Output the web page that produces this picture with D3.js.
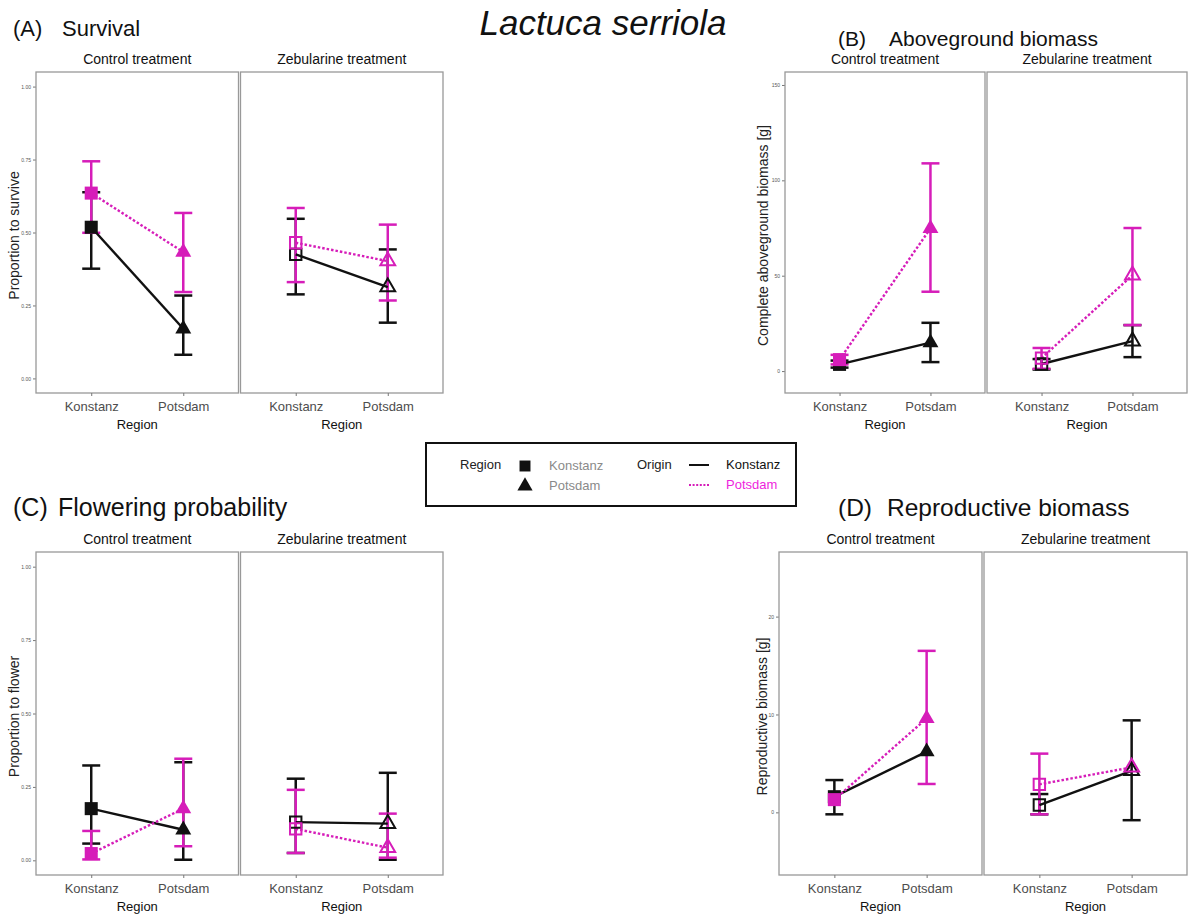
<!DOCTYPE html>
<html>
<head>
<meta charset="utf-8">
<script src="https://cdn.jsdelivr.net/npm/d3@7"></script>
<style>
  html, body { margin: 0; padding: 0; background: #fff; }
  svg { display: block; font-family: "Liberation Sans", Arial, Helvetica, sans-serif; }
</style>
</head>
<body>
<svg id="chart" width="1188" height="914"></svg>
<script>
// Levels of the design
const regions = ["Konstanz", "Potsdam"];
const treatments = ["Control treatment", "Zebularine treatment"];
const origins = ["Konstanz", "Potsdam"];

// Every value array is ordered: treatment (Control, Zebularine) -> origin (Konstanz, Potsdam) -> region (Konstanz, Potsdam)
// null = no interval drawn
const survivalMean = [0.518, 0.170, 0.635, 0.433, 0.425, 0.313, 0.465, 0.402];
const survivalLow  = [0.376, 0.081, 0.499, 0.296, 0.288, 0.191, 0.330, 0.267];
const survivalHigh = [0.638, 0.284, 0.744, 0.567, 0.547, 0.442, 0.584, 0.527];

const biomassMean = [3.5, 14.9, 6.0, 74.8, 3.7, 15.7, 6.8, 50.3];
const biomassLow  = [1.8, 4.7, 3.5, 41.6, 0.8, 7.3, 1.2, 24.1];
const biomassHigh = [5.5, 25.3, 8.5, 108.9, 6.3, 24.1, 12.1, 75.0];

const flowerMean = [0.176, 0.104, 0.023, 0.176, 0.130, 0.125, 0.107, 0.043];
const flowerLow  = [0.057, 0.002, 0.003, 0.048, 0.025, 0.002, 0.025, 0.009];
const flowerHigh = [0.323, 0.334, 0.100, 0.346, 0.278, 0.298, 0.240, 0.159];

const reproMean = [1.6, 6.2, 1.3, 9.6, 0.75, 4.25, 2.86, 4.6];
const reproLow  = [-0.2, null, null, 2.9, -0.2, -0.8, -0.2, null];
const reproHigh = [3.3, null, null, 16.5, 1.87, 9.4, 6.0, null];

// Axis ticks
const propTicks = [0, 0.25, 0.5, 0.75, 1];
const biomassTicks = [0, 50, 100, 150];
const reproTicks = [0, 10, 20];

const BLACK = "#111111";
const MAGENTA = "#d61db9";
const LEGEND_MAGENTA = "#ee1fdd";
const FRAME = "#999999";

const svg = d3.select("#chart");
svg.append("rect").attr("width", 1188).attr("height", 914).attr("fill", "#fff");

function buildRows(mean, low, high) {
  const rows = [];
  let i = 0;
  treatments.forEach(t => origins.forEach(o => regions.forEach(r => {
    rows.push({ treatment: t, origin: o, region: r, mean: mean[i], low: low[i], high: high[i] });
    i++;
  })));
  return rows;
}

const panels = [
  { tag: "(A)", title: "Survival", titleX: 13, nameX: 62, titleY: 36, titleSize: 22,
    left: 36, right: 443, top: 72, bottom: 393,
    domain: [-0.05, 1.05], ticks: propTicks, fmt: d3.format(".2f"),
    ylab: "Proportion to survive", ylabX: 19,
    rows: buildRows(survivalMean, survivalLow, survivalHigh) },
  { tag: "(B)", title: "Aboveground biomass", titleX: 838, nameX: 889, titleY: 46, titleSize: 21,
    left: 785, right: 1187, top: 72, bottom: 393,
    domain: [-11.5, 156.8], ticks: biomassTicks, fmt: d3.format("d"),
    ylab: "Complete aboveground biomass [g]", ylabX: 768,
    rows: buildRows(biomassMean, biomassLow, biomassHigh) },
  { tag: "(C)", title: "Flowering probability", titleX: 13, nameX: 58, titleY: 516, titleSize: 25,
    left: 36, right: 443, top: 552, bottom: 875,
    domain: [-0.05, 1.05], ticks: propTicks, fmt: d3.format(".2f"),
    ylab: "Proportion to flower", ylabX: 19,
    rows: buildRows(flowerMean, flowerLow, flowerHigh) },
  { tag: "(D)", title: "Reproductive biomass", titleX: 838, nameX: 887, titleY: 516, titleSize: 24.5,
    left: 779, right: 1187, top: 552, bottom: 875,
    domain: [-6.4, 26.6], ticks: reproTicks, fmt: d3.format("d"),
    ylab: "Reproductive biomass [g]", ylabX: 767,
    rows: buildRows(reproMean, reproLow, reproHigh) }
];

const colorScale = d3.scaleOrdinal().domain(origins).range([BLACK, MAGENTA]);
const shapeScale = d3.scaleOrdinal().domain(regions).range([d3.symbolSquare, d3.symbolTriangle]);

// Main title
svg.append("text")
  .attr("x", 603).attr("y", 35)
  .attr("text-anchor", "middle")
  .attr("font-size", 35).attr("font-style", "italic")
  .attr("fill", "#111")
  .text("Lactuca serriola");

panels.forEach(p => {
  const g = svg.append("g");

  g.append("text")
    .attr("x", p.titleX).attr("y", p.titleY)
    .attr("font-size", p.titleSize).attr("fill", "#111")
    .text(p.tag);
  g.append("text")
    .attr("x", p.nameX).attr("y", p.titleY)
    .attr("font-size", p.titleSize).attr("fill", "#111")
    .text(p.title);

  const y = d3.scaleLinear().domain(p.domain).range([p.bottom, p.top]);
  const gap = 2;
  const facetW = (p.right - p.left - gap) / 2;

  // Y axis title
  g.append("text")
    .attr("transform", `translate(${p.ylabX},${(p.top + p.bottom) / 2 + 3}) rotate(-90)`)
    .attr("text-anchor", "middle")
    .attr("font-size", 14).attr("fill", "#222")
    .text(p.ylab);

  // Y axis (left facet only)
  const yAxis = d3.axisLeft(y).tickValues(p.ticks).tickFormat(p.fmt).tickSize(3).tickPadding(2);
  const ya = g.append("g").attr("transform", `translate(${p.left},0)`).call(yAxis);
  ya.select(".domain").remove();
  ya.selectAll(".tick line").attr("stroke", "#777");
  ya.selectAll(".tick text").attr("font-size", 5).attr("fill", "#555")
    .attr("font-family", "'Liberation Sans', Arial, sans-serif");

  treatments.forEach((t, ti) => {
    const fx0 = p.left + ti * (facetW + gap);
    const x = d3.scalePoint().domain(regions).range([fx0, fx0 + facetW]).padding(0.6);
    const fg = g.append("g");

    // Facet frame
    fg.append("rect")
      .attr("x", fx0).attr("y", p.top)
      .attr("width", facetW).attr("height", p.bottom - p.top)
      .attr("fill", "none").attr("stroke", FRAME).attr("stroke-width", 1.3);

    // Strip label
    fg.append("text")
      .attr("x", fx0 + facetW / 2).attr("y", p.top - 8)
      .attr("text-anchor", "middle").attr("font-size", 14).attr("fill", "#111")
      .text(t);

    // X axis
    const xAxis = d3.axisBottom(x).tickSize(3).tickPadding(6);
    const xa = fg.append("g").attr("transform", `translate(0,${p.bottom})`).call(xAxis);
    xa.select(".domain").remove();
    xa.selectAll(".tick line").attr("stroke", "#777");
    xa.selectAll(".tick text").attr("font-size", 13).attr("fill", "#4d4d4d")
      .attr("font-family", "'Liberation Sans', Arial, sans-serif");

    fg.append("text")
      .attr("x", fx0 + facetW / 2).attr("y", p.bottom + 36)
      .attr("text-anchor", "middle").attr("font-size", 13).attr("fill", "#111")
      .text("Region");

    const rows = p.rows.filter(d => d.treatment === t);
    const hollow = ti === 1;

    // Error bars
    origins.forEach(o => {
      const sub = rows.filter(d => d.origin === o && d.low != null && d.high != null);
      const eg = fg.append("g").attr("stroke", colorScale(o)).attr("stroke-width", 2.5).attr("fill", "none");
      sub.forEach(d => {
        const cx = x(d.region);
        eg.append("line").attr("x1", cx).attr("x2", cx).attr("y1", y(d.low)).attr("y2", y(d.high));
        eg.append("line").attr("x1", cx - 9).attr("x2", cx + 9).attr("y1", y(d.low)).attr("y2", y(d.low));
        eg.append("line").attr("x1", cx - 9).attr("x2", cx + 9).attr("y1", y(d.high)).attr("y2", y(d.high));
      });
    });

    // Connecting lines per origin
    origins.forEach(o => {
      const sub = rows.filter(d => d.origin === o);
      fg.append("path")
        .datum(sub)
        .attr("fill", "none")
        .attr("stroke", colorScale(o))
        .attr("stroke-width", 2.4)
        .attr("stroke-dasharray", o === "Potsdam" ? "2.5,2" : null)
        .attr("d", d3.line().x(d => x(d.region)).y(d => y(d.mean)));
    });

    // Points
    origins.forEach(o => {
      const sub = rows.filter(d => d.origin === o);
      sub.forEach(d => {
        const isSq = d.region === "Konstanz";
        const size = hollow ? (isSq ? 130 : 95) : (isSq ? 170 : 110);
        fg.append("path")
          .attr("transform", `translate(${x(d.region)},${y(d.mean)})`)
          .attr("d", d3.symbol().type(shapeScale(d.region)).size(size)())
          .attr("fill", hollow ? "none" : colorScale(o))
          .attr("stroke", hollow ? colorScale(o) : "none")
          .attr("stroke-width", hollow ? 2 : 0);
      });
    });
  });
});

// Legend
const lg = svg.append("g");
lg.append("rect").attr("x", 426).attr("y", 443).attr("width", 370).attr("height", 63)
  .attr("fill", "#fff").attr("stroke", "#111").attr("stroke-width", 2);
lg.append("text").attr("x", 460).attr("y", 469).attr("font-size", 13).attr("fill", "#222").text("Region");
regions.forEach((r, i) => {
  const yy = 466 + i * 20;
  lg.append("path")
    .attr("transform", `translate(525,${yy})`)
    .attr("d", d3.symbol().type(shapeScale(r)).size(i === 0 ? 120 : 100)())
    .attr("fill", BLACK);
  lg.append("text").attr("x", 549).attr("y", yy + 4).attr("font-size", 13).attr("fill", "#8a8a8a").text(r);
});
lg.append("text").attr("x", 637).attr("y", 469).attr("font-size", 13).attr("fill", "#222").text("Origin");
origins.forEach((o, i) => {
  const yy = 465 + i * 20;
  lg.append("line").attr("x1", 689).attr("x2", 709).attr("y1", yy).attr("y2", yy)
    .attr("stroke", colorScale(o)).attr("stroke-width", 2)
    .attr("stroke-dasharray", o === "Potsdam" ? "2,1.6" : null);
  lg.append("text").attr("x", 726).attr("y", yy + 4).attr("font-size", 13)
    .attr("fill", o === "Potsdam" ? LEGEND_MAGENTA : "#111").text(o);
});
</script>
</body>
</html>
